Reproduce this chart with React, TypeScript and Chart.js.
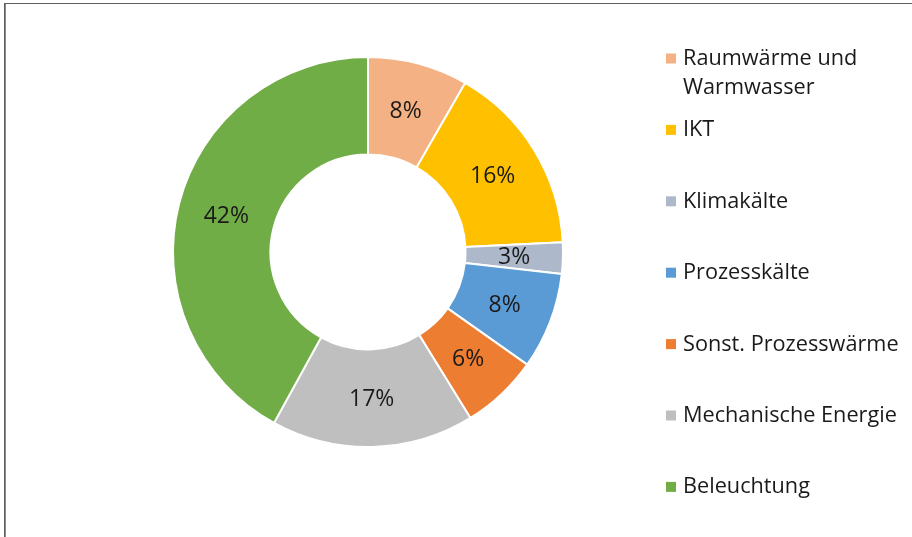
import React, { useEffect, useRef } from "react";
import { Chart, registerables } from "chart.js";

Chart.register(...registerables);

const categories: string[][] = [
  ["Raumwärme und", "Warmwasser"],
  ["IKT"],
  ["Klimakälte"],
  ["Prozesskälte"],
  ["Sonst. Prozesswärme"],
  ["Mechanische Energie"],
  ["Beleuchtung"],
];
const shares = [8.3, 15.9, 2.6, 8.0, 6.4, 16.8, 42.0];
const shareLabels = ["8%", "16%", "3%", "8%", "6%", "17%", "42%"];
const colors = ["#F4B183", "#FFC000", "#ADB9CA", "#5B9BD5", "#ED7D31", "#BFBFBF", "#70AD47"];

const FONT = "'Open Sans', 'Noto Sans', sans-serif";

const extrasPlugin = {
  id: "extras",
  afterDatasetsDraw(chart: any) {
    const ctx = chart.ctx;
    const meta = chart.getDatasetMeta(0);
    ctx.save();
    ctx.fillStyle = "#1a1a1a";
    ctx.font = `23px ${FONT}`;
    ctx.textAlign = "center";
    ctx.textBaseline = "middle";
    meta.data.forEach((arc: any, i: number) => {
      const p = arc.getCenterPoint();
      ctx.fillText(shareLabels[i], p.x, p.y + 1);
    });
    ctx.restore();
  },
  afterDraw(chart: any) {
    const ctx = chart.ctx;
    ctx.save();
    // frame
    ctx.fillStyle = "#8c8c8c";
    ctx.fillRect(4, 3, 2, 540);
    ctx.fillStyle = "#5f5f5f";
    ctx.fillRect(4, 3, 920, 1);
    ctx.fillRect(4, 3, 1, 540);
    // legend
    ctx.font = `21.7px ${FONT}`;
    ctx.textAlign = "left";
    ctx.textBaseline = "alphabetic";
    categories.forEach((lines, i) => {
      const base = 65 + i * 71.4;
      ctx.fillStyle = colors[i];
      ctx.fillRect(666, base - 11.5, 10, 10);
      ctx.fillStyle = "#1a1a1a";
      lines.forEach((t, j) => ctx.fillText(t, 683, base + j * 29));
    });
    ctx.restore();
  },
};

export default function App() {
  const ref = useRef<HTMLCanvasElement>(null);
  useEffect(() => {
    if (!ref.current) return;
    const chart = new Chart(ref.current, {
      type: "doughnut",
      data: {
        labels: categories.map((c) => c.join(" ")),
        datasets: [
          {
            data: shares,
            backgroundColor: colors,
            borderColor: "#ffffff",
            borderWidth: 2,
          },
        ],
      },
      options: {
        responsive: false,
        animation: false,
        cutout: "50%",
        layout: { padding: { left: 172, right: 348, top: 56, bottom: 89 } },
        plugins: {
          legend: { display: false },
          tooltip: { enabled: false },
        },
      },
      plugins: [extrasPlugin],
    });
    return () => chart.destroy();
  }, []);
  return (
    <div style={{ position: "fixed", left: 0, top: 0, width: 912, height: 537, background: "#fff" }}>
      <canvas ref={ref} width={912} height={537} />
    </div>
  );
}
